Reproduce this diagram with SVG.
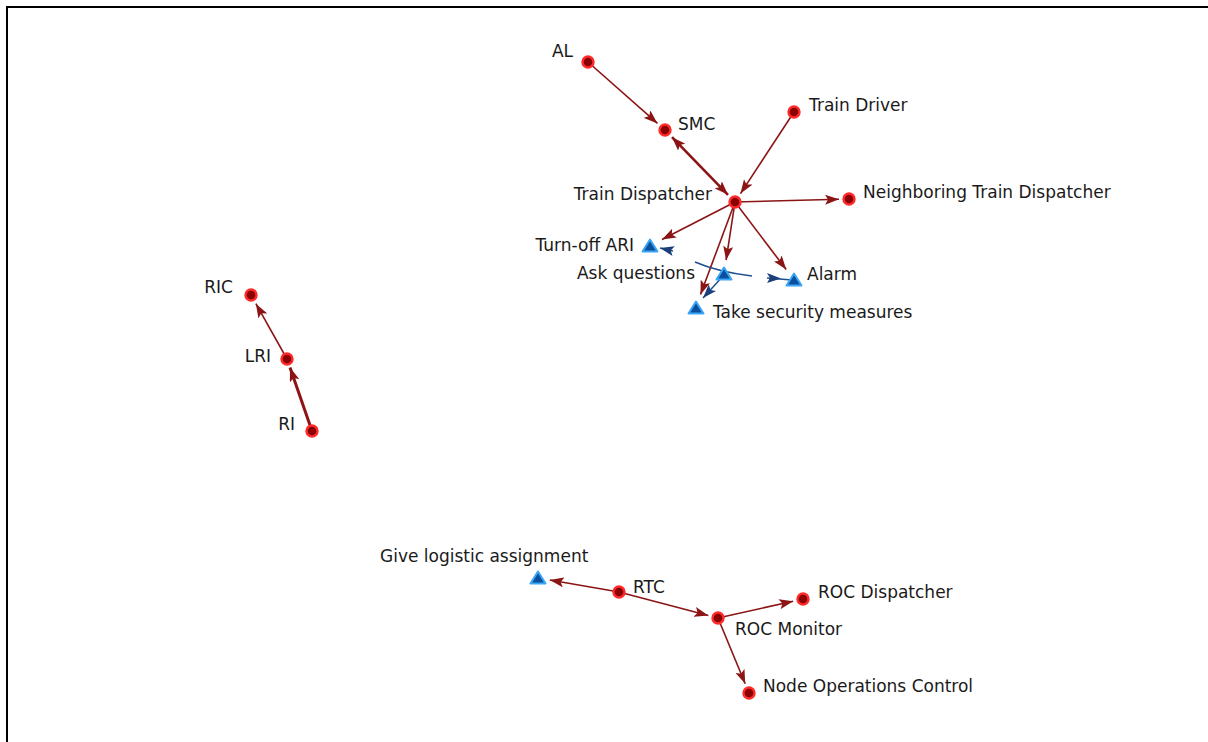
<svg xmlns="http://www.w3.org/2000/svg" width="1208" height="742" viewBox="0 0 1208 742">
<style>
.e{stroke:#8b1414;stroke-width:1.6;fill:none;marker-end:url(#ar)}
.b{stroke:#1f4f8f;stroke-width:1.5;fill:none}
.n{fill:#8b0000;stroke:#ff2a2a;stroke-width:2.4}
.t{fill:#0b4f9e;stroke:#3aa6f5;stroke-width:2;stroke-linejoin:round}
text{font-family:"DejaVu Sans","Liberation Sans",sans-serif;font-size:17px;fill:#1a1a1a}
.r{text-anchor:end}
</style>
<defs>
<marker id="ar" viewBox="0 0 14 10" refX="14" refY="5" markerWidth="14" markerHeight="10" markerUnits="userSpaceOnUse" orient="auto-start-reverse">
<path d="M0,0 L14,5 L0,10 L3,5 Z" fill="#8b1414"/>
</marker>
<marker id="ab" viewBox="0 0 14 10" refX="14" refY="5" markerWidth="14" markerHeight="10" markerUnits="userSpaceOnUse" orient="auto">
<path d="M0,0 L14,5 L0,10 L3,5 Z" fill="#1a3f7a"/>
</marker>
</defs>
<rect x="0" y="0" width="1208" height="742" fill="#ffffff"/>
<rect x="7" y="7" width="1215" height="760" fill="none" stroke="#000" stroke-width="2"/>
<g id="connectors">
<line class="e" x1="588" y1="62" x2="657.5" y2="123.4"/>
<line class="e" x1="672" y1="137.2" x2="728" y2="194.8" style="stroke-width:2.6;marker-start:url(#ar)"/>
<line class="e" x1="794" y1="112" x2="740.5" y2="193.6"/>
<line class="e" x1="735" y1="202" x2="839" y2="199.3"/>
<line class="e" x1="735" y1="202" x2="662" y2="239.5"/>
<line class="e" x1="735" y1="202" x2="726.1" y2="260.2"/>
<line class="e" x1="735" y1="202" x2="786.2" y2="269.6"/>
<line class="e" x1="735" y1="202" x2="700.5" y2="294.5"/>
<line class="e" x1="312" y1="431" x2="290" y2="367.5" style="stroke-width:3"/>
<line class="e" x1="287" y1="359" x2="255.9" y2="303.7"/>
<line class="e" x1="619" y1="592" x2="549.8" y2="580"/>
<line class="e" x1="619" y1="592" x2="708.3" y2="615.5"/>
<line class="e" x1="718" y1="618" x2="793.2" y2="601.2"/>
<line class="e" x1="718" y1="618" x2="745.2" y2="683.8"/>
<path class="b" d="M695,262 Q718,272 752,276"/>
<line class="b" x1="724" y1="275" x2="703" y2="298" style="marker-end:url(#ab)"/>
<line class="b" x1="673" y1="251" x2="660" y2="248" style="marker-end:url(#ab)"/>
<line class="b" x1="792" y1="280" x2="767" y2="278"/>
<path d="M767,273 L781,278.5 L767,283 L770,278 Z" fill="#1a3f7a"/>
</g>
<g id="AL"><circle class="n" cx="588" cy="62" r="5.5"/><text x="573" y="57" class="r">AL</text></g>
<g id="SMC"><circle class="n" cx="665" cy="130" r="5.5"/><text x="678" y="130">SMC</text></g>
<g id="TrainDriver"><circle class="n" cx="794" cy="112" r="5.5"/><text x="809" y="111">Train Driver</text></g>
<g id="TrainDispatcher"><circle class="n" cx="735" cy="202" r="5.5"/><text x="712" y="200" class="r">Train Dispatcher</text></g>
<g id="Neighboring"><circle class="n" cx="849" cy="199" r="5.5"/><text x="863" y="198">Neighboring Train Dispatcher</text></g>
<g id="TurnOffARI"><polygon class="t" points="650,239.5 657.5,251.5 642.5,251.5"/><text x="634" y="251" class="r">Turn-off ARI</text></g>
<g id="AskQuestions"><polygon class="t" points="724,267.5 731.5,279.5 716.5,279.5"/><text x="695" y="279" class="r">Ask questions</text></g>
<g id="Alarm"><polygon class="t" points="794,273.5 801.5,285.5 786.5,285.5"/><text x="807" y="280">Alarm</text></g>
<g id="TakeSecurity"><polygon class="t" points="696,301.5 703.5,313.5 688.5,313.5"/><text x="713" y="318">Take security measures</text></g>
<g id="RIC"><circle class="n" cx="251" cy="295" r="5.5"/><text x="233" y="293" class="r">RIC</text></g>
<g id="LRI"><circle class="n" cx="287" cy="359" r="5.5"/><text x="271" y="362" class="r">LRI</text></g>
<g id="RI"><circle class="n" cx="312" cy="431" r="5.5"/><text x="295" y="430" class="r">RI</text></g>
<g id="GiveLogistic"><polygon class="t" points="538,571.5 545.5,583.5 530.5,583.5"/><text x="380" y="562">Give logistic assignment</text></g>
<g id="RTC"><circle class="n" cx="619" cy="592" r="5.5"/><text x="633" y="593">RTC</text></g>
<g id="ROCMonitor"><circle class="n" cx="718" cy="618" r="5.5"/><text x="735" y="635">ROC Monitor</text></g>
<g id="ROCDispatcher"><circle class="n" cx="803" cy="599" r="5.5"/><text x="818" y="598">ROC Dispatcher</text></g>
<g id="NodeOps"><circle class="n" cx="749" cy="693" r="5.5"/><text x="763" y="692">Node Operations Control</text></g>
</svg>
